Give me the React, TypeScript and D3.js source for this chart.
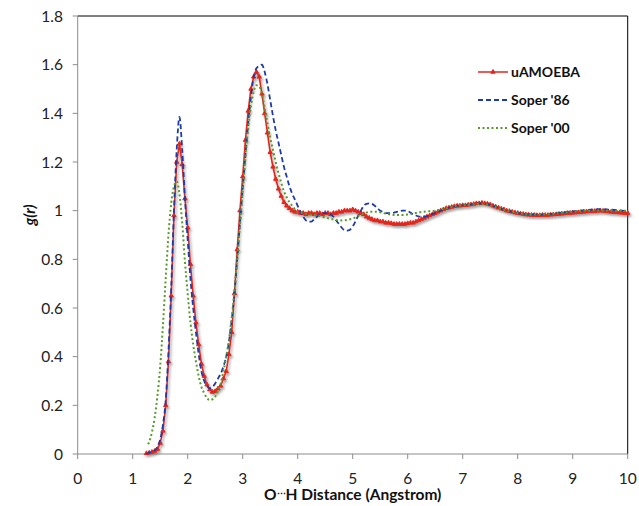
import React from "react";
import * as d3 from "d3";

const xTicks = [0, 1, 2, 3, 4, 5, 6, 7, 8, 9, 10];
const yTicks = [0, 0.2, 0.4, 0.6, 0.8, 1, 1.2, 1.4, 1.6, 1.8];
const seriesNames = ["uAMOEBA", "Soper '86", "Soper '00"];

const uamoeba: [number, number][] = [
  [1.25, 0.003], [1.3, 0.005], [1.35, 0.008], [1.4, 0.012], [1.45, 0.02], [1.5, 0.045], [1.55, 0.095], [1.6, 0.2],
  [1.65, 0.38], [1.7, 0.65], [1.75, 0.98], [1.8, 1.2], [1.85, 1.275], [1.9, 1.19], [1.95, 1.05], [2.0, 0.93],
  [2.05, 0.78], [2.1, 0.65], [2.15, 0.54], [2.2, 0.45], [2.25, 0.37], [2.3, 0.32], [2.35, 0.285], [2.4, 0.265],
  [2.45, 0.255], [2.5, 0.258], [2.55, 0.268], [2.6, 0.28], [2.65, 0.31], [2.7, 0.34], [2.75, 0.41], [2.8, 0.5],
  [2.85, 0.66], [2.9, 0.84], [2.95, 1.0], [3.0, 1.14], [3.05, 1.29], [3.1, 1.41], [3.15, 1.5], [3.2, 1.55],
  [3.25, 1.57], [3.3, 1.55], [3.35, 1.48], [3.4, 1.4], [3.45, 1.32], [3.5, 1.24], [3.55, 1.18], [3.6, 1.13],
  [3.65, 1.09], [3.7, 1.06], [3.75, 1.035], [3.8, 1.02], [3.85, 1.01], [3.9, 1.0], [3.95, 0.995], [4.0, 0.995],
  [4.05, 0.99], [4.1, 0.99], [4.15, 0.985], [4.2, 0.99], [4.25, 0.99], [4.3, 0.985], [4.35, 0.99], [4.4, 0.99],
  [4.45, 0.985], [4.5, 0.99], [4.55, 0.99], [4.6, 0.985], [4.65, 0.99], [4.7, 0.99], [4.75, 0.995], [4.8, 0.995],
  [4.85, 1.0], [4.9, 1.0], [4.95, 1.0], [5.0, 1.005], [5.05, 1.0], [5.1, 0.995], [5.15, 0.99], [5.2, 0.985],
  [5.25, 0.975], [5.3, 0.97], [5.35, 0.965], [5.4, 0.96], [5.45, 0.96], [5.5, 0.955], [5.55, 0.955], [5.6, 0.95],
  [5.65, 0.95], [5.7, 0.948], [5.75, 0.945], [5.8, 0.945], [5.85, 0.945], [5.9, 0.945], [5.95, 0.945], [6.0, 0.948],
  [6.05, 0.95], [6.1, 0.95], [6.15, 0.955], [6.2, 0.96], [6.25, 0.965], [6.3, 0.97], [6.35, 0.975], [6.4, 0.98],
  [6.45, 0.985], [6.5, 0.99], [6.55, 0.995], [6.6, 1.0], [6.65, 1.005], [6.7, 1.01], [6.75, 1.012], [6.8, 1.015],
  [6.85, 1.018], [6.9, 1.02], [6.95, 1.02], [7.0, 1.022], [7.05, 1.022], [7.1, 1.024], [7.15, 1.025], [7.2, 1.027],
  [7.25, 1.03], [7.3, 1.03], [7.35, 1.032], [7.4, 1.03], [7.45, 1.028], [7.5, 1.025], [7.55, 1.02], [7.6, 1.016],
  [7.65, 1.012], [7.7, 1.008], [7.75, 1.005], [7.8, 1.0], [7.85, 0.998], [7.9, 0.995], [7.95, 0.992], [8.0, 0.99],
  [8.05, 0.988], [8.1, 0.986], [8.15, 0.984], [8.2, 0.983], [8.25, 0.982], [8.3, 0.982], [8.35, 0.981], [8.4, 0.981],
  [8.45, 0.982], [8.5, 0.982], [8.55, 0.982], [8.6, 0.983], [8.65, 0.984], [8.7, 0.985], [8.75, 0.986], [8.8, 0.987],
  [8.85, 0.988], [8.9, 0.99], [8.95, 0.99], [9.0, 0.991], [9.05, 0.992], [9.1, 0.993], [9.15, 0.994], [9.2, 0.995],
  [9.25, 0.996], [9.3, 0.997], [9.35, 0.998], [9.4, 0.998], [9.45, 0.999], [9.5, 1.0], [9.55, 0.999], [9.6, 0.998],
  [9.65, 0.996], [9.7, 0.995], [9.75, 0.994], [9.8, 0.993], [9.85, 0.992], [9.9, 0.991], [9.95, 0.99], [10.0, 0.99],
];

const soper86: [number, number][] = [
  [1.25, 0.0], [1.3, 0.005], [1.35, 0.01], [1.4, 0.015], [1.45, 0.03], [1.5, 0.06], [1.55, 0.12], [1.6, 0.22],
  [1.65, 0.42], [1.7, 0.68], [1.75, 1.0], [1.8, 1.25], [1.85, 1.385], [1.9, 1.25], [1.95, 1.05], [2.0, 0.88],
  [2.05, 0.72], [2.1, 0.6], [2.15, 0.5], [2.2, 0.41], [2.25, 0.34], [2.3, 0.3], [2.35, 0.28], [2.4, 0.27],
  [2.45, 0.275], [2.5, 0.29], [2.55, 0.31], [2.6, 0.33], [2.65, 0.36], [2.7, 0.4], [2.75, 0.46], [2.8, 0.55],
  [2.85, 0.66], [2.9, 0.8], [2.95, 0.95], [3.0, 1.09], [3.05, 1.23], [3.1, 1.36], [3.15, 1.47], [3.2, 1.55],
  [3.25, 1.585], [3.3, 1.595], [3.35, 1.6], [3.4, 1.57], [3.45, 1.52], [3.5, 1.455], [3.55, 1.39], [3.6, 1.33],
  [3.65, 1.28], [3.7, 1.23], [3.75, 1.18], [3.8, 1.14], [3.85, 1.1], [3.9, 1.07], [3.95, 1.045], [4.0, 1.02],
  [4.05, 0.995], [4.1, 0.975], [4.15, 0.96], [4.2, 0.955], [4.25, 0.955], [4.3, 0.965], [4.35, 0.975], [4.4, 0.985],
  [4.45, 0.99], [4.5, 0.99], [4.55, 0.99], [4.6, 0.985], [4.65, 0.975], [4.7, 0.96], [4.75, 0.945], [4.8, 0.93],
  [4.85, 0.92], [4.9, 0.918], [4.95, 0.922], [5.0, 0.935], [5.05, 0.955], [5.1, 0.98], [5.15, 1.0], [5.2, 1.02],
  [5.25, 1.028], [5.3, 1.03], [5.35, 1.028], [5.4, 1.02], [5.45, 1.01], [5.5, 1.0], [5.55, 0.995], [5.6, 0.99],
  [5.65, 0.99], [5.7, 0.99], [5.75, 0.992], [5.8, 0.995], [5.85, 0.998], [5.9, 1.0], [5.95, 1.0], [6.0, 0.998],
  [6.05, 0.992], [6.1, 0.985], [6.15, 0.98], [6.2, 0.976], [6.25, 0.975], [6.3, 0.975], [6.35, 0.978], [6.4, 0.982],
  [6.45, 0.987], [6.5, 0.99], [6.6, 1.0], [6.7, 1.01], [6.8, 1.015], [6.9, 1.02], [7.0, 1.022], [7.1, 1.024],
  [7.2, 1.027], [7.3, 1.03], [7.4, 1.028], [7.5, 1.024], [7.6, 1.015], [7.7, 1.007], [7.8, 1.0], [7.9, 0.995],
  [8.0, 0.99], [8.1, 0.987], [8.2, 0.985], [8.3, 0.984], [8.4, 0.984], [8.5, 0.985], [8.6, 0.987], [8.7, 0.99],
  [8.8, 0.992], [8.9, 0.995], [9.0, 0.997], [9.1, 0.999], [9.2, 1.001], [9.3, 1.003], [9.4, 1.005], [9.5, 1.006],
  [9.6, 1.005], [9.7, 1.004], [9.8, 1.002], [9.9, 1.0], [10.0, 0.998],
];

const soper00: [number, number][] = [
  [1.28, 0.04], [1.3, 0.05], [1.35, 0.09], [1.4, 0.15], [1.45, 0.24], [1.5, 0.36], [1.55, 0.53], [1.6, 0.72],
  [1.65, 0.9], [1.7, 1.03], [1.75, 1.1], [1.8, 1.12], [1.85, 1.07], [1.9, 0.95], [1.95, 0.79], [2.0, 0.66],
  [2.05, 0.54], [2.1, 0.45], [2.15, 0.38], [2.2, 0.32], [2.25, 0.275], [2.3, 0.25], [2.35, 0.23], [2.4, 0.222],
  [2.45, 0.225], [2.5, 0.235], [2.55, 0.26], [2.6, 0.29], [2.65, 0.34], [2.7, 0.4], [2.75, 0.47], [2.8, 0.56],
  [2.85, 0.67], [2.9, 0.8], [2.95, 0.94], [3.0, 1.08], [3.05, 1.22], [3.1, 1.34], [3.15, 1.43], [3.2, 1.49],
  [3.25, 1.515], [3.3, 1.51], [3.35, 1.48], [3.4, 1.42], [3.45, 1.36], [3.5, 1.3], [3.55, 1.25], [3.6, 1.2],
  [3.65, 1.155], [3.7, 1.115], [3.75, 1.08], [3.8, 1.055], [3.85, 1.035], [3.9, 1.02], [3.95, 1.005], [4.0, 0.995],
  [4.1, 0.99], [4.2, 0.985], [4.3, 0.982], [4.4, 0.978], [4.5, 0.972], [4.6, 0.966], [4.7, 0.962], [4.8, 0.96],
  [4.9, 0.962], [5.0, 0.968], [5.1, 0.978], [5.2, 0.988], [5.3, 0.995], [5.4, 0.996], [5.5, 0.993], [5.6, 0.988],
  [5.7, 0.984], [5.8, 0.982], [5.9, 0.982], [6.0, 0.984], [6.1, 0.988], [6.2, 0.993], [6.3, 0.996], [6.4, 0.998],
  [6.5, 1.0], [6.6, 1.005], [6.7, 1.01], [6.8, 1.015], [6.9, 1.02], [7.0, 1.022], [7.1, 1.024], [7.2, 1.026],
  [7.3, 1.028], [7.4, 1.027], [7.5, 1.022], [7.6, 1.015], [7.7, 1.007], [7.8, 1.0], [7.9, 0.995], [8.0, 0.99],
  [8.1, 0.987], [8.2, 0.985], [8.3, 0.984], [8.4, 0.984], [8.5, 0.985], [8.6, 0.987], [8.7, 0.99], [8.8, 0.992],
  [8.9, 0.994], [9.0, 0.996], [9.2, 0.999], [9.4, 1.001], [9.6, 1.001], [9.8, 1.0], [10.0, 0.999],
];

const W = 639;
const H = 506;
const X0 = 77.7, X1 = 627.7, Y0 = 454, Y1 = 16;

export default function App() {
  const x = d3.scaleLinear().domain([0, 10]).range([X0, X1]);
  const y = d3.scaleLinear().domain([0, 1.8]).range([Y0, Y1]);
  const lineStraight = d3.line<[number, number]>().x((d) => x(d[0])).y((d) => y(d[1]));
  const lineSmooth = d3.line<[number, number]>().x((d) => x(d[0])).y((d) => y(d[1])).curve(d3.curveMonotoneX);
  const tri = d3.symbol().type(d3.symbolTriangle).size(8)();
  const font = "Lato, 'Open Sans', sans-serif";
  const red = "#e3261c";
  const blue = "#1f3ca6";
  const green = "#5a9a2c";
  const legendY = [72, 100, 128];
  const legendColors = [red, blue, green];

  return (
    <svg width={W} height={H} style={{ position: "absolute", left: 0, top: 0, background: "#fff" }} fontFamily={font}>
      <defs>
        <filter id="shadow" x="-10%" y="-10%" width="120%" height="120%">
          <feDropShadow dx="1.5" dy="2" stdDeviation="1.2" floodColor="#555" floodOpacity="0.55" />
        </filter>
      </defs>
      <rect x={0} y={0} width={W} height={H} fill="#fff" />
      <line x1={X0} x2={X1} y1={Y1} y2={Y1} stroke="#000" strokeWidth={1} />
      <line x1={X1} x2={X1} y1={Y1} y2={Y0} stroke="#000" strokeWidth={1} />
      <line x1={X0} x2={X0} y1={Y1} y2={Y0} stroke="#8c8c8c" strokeWidth={1} />
      <line x1={X0} x2={X1} y1={Y0} y2={Y0} stroke="#8c8c8c" strokeWidth={1} />
      {yTicks.map((t) => (
        <g key={"y" + t}>
          <line x1={X0 - 5} x2={X0} y1={y(t)} y2={y(t)} stroke="#8c8c8c" />
          <text x={63} y={y(t)} dy="0.36em" textAnchor="end" fontSize={15.5} fill="#222">
            {String(t)}
          </text>
        </g>
      ))}
      {xTicks.map((t) => (
        <g key={"x" + t}>
          <line x1={x(t)} x2={x(t)} y1={Y0} y2={Y0 + 5} stroke="#8c8c8c" />
          <text x={x(t)} y={478} dy="0.36em" textAnchor="middle" fontSize={15.5} fill="#222">
            {String(t)}
          </text>
        </g>
      ))}
      <text x={(X0 + X1) / 2} y={500} textAnchor="middle" fontSize={15.5} fontWeight="bold" fill="#111">
        O<tspan fontSize={9} dy={-3}>⋯</tspan><tspan dy={3}>H Distance (Angstrom)</tspan>
      </text>
      <text transform={`translate(35,215) rotate(-90)`} textAnchor="middle" fontSize={15.5} fontWeight="bold" fontStyle="italic" fill="#111">
        g(r)
      </text>

      <g filter="url(#shadow)">
        <path d={lineStraight(uamoeba) || ""} fill="none" stroke={red} strokeWidth={1.6} />
        {uamoeba.map((d, i) => (
          <path key={i} d={tri || ""} transform={`translate(${x(d[0])},${y(d[1])})`} fill={red} stroke={red} strokeWidth={1} />
        ))}
      </g>
      <path d={lineSmooth(soper86) || ""} fill="none" stroke={blue} strokeWidth={1.8} strokeDasharray="5,3" />
      <path d={lineSmooth(soper00) || ""} fill="none" stroke={green} strokeWidth={2} strokeDasharray="2,2.5" />

      {seriesNames.map((n, i) => (
        <g key={n}>
          <line
            x1={478}
            x2={508}
            y1={legendY[i]}
            y2={legendY[i]}
            stroke={legendColors[i]}
            strokeWidth={i === 0 ? 1.5 : i === 1 ? 1.8 : 2}
            strokeDasharray={i === 0 ? undefined : i === 1 ? "5,3" : "2,2.5"}
          />
          {i === 0 && (
            <path d={tri || ""} transform={`translate(493,${legendY[i]})`} fill={red} stroke={red} strokeWidth={1} />
          )}
          <text x={511} y={legendY[i]} dy="0.36em" fontSize={14} fontWeight="bold" fill="#111">
            {n}
          </text>
        </g>
      ))}
    </svg>
  );
}
